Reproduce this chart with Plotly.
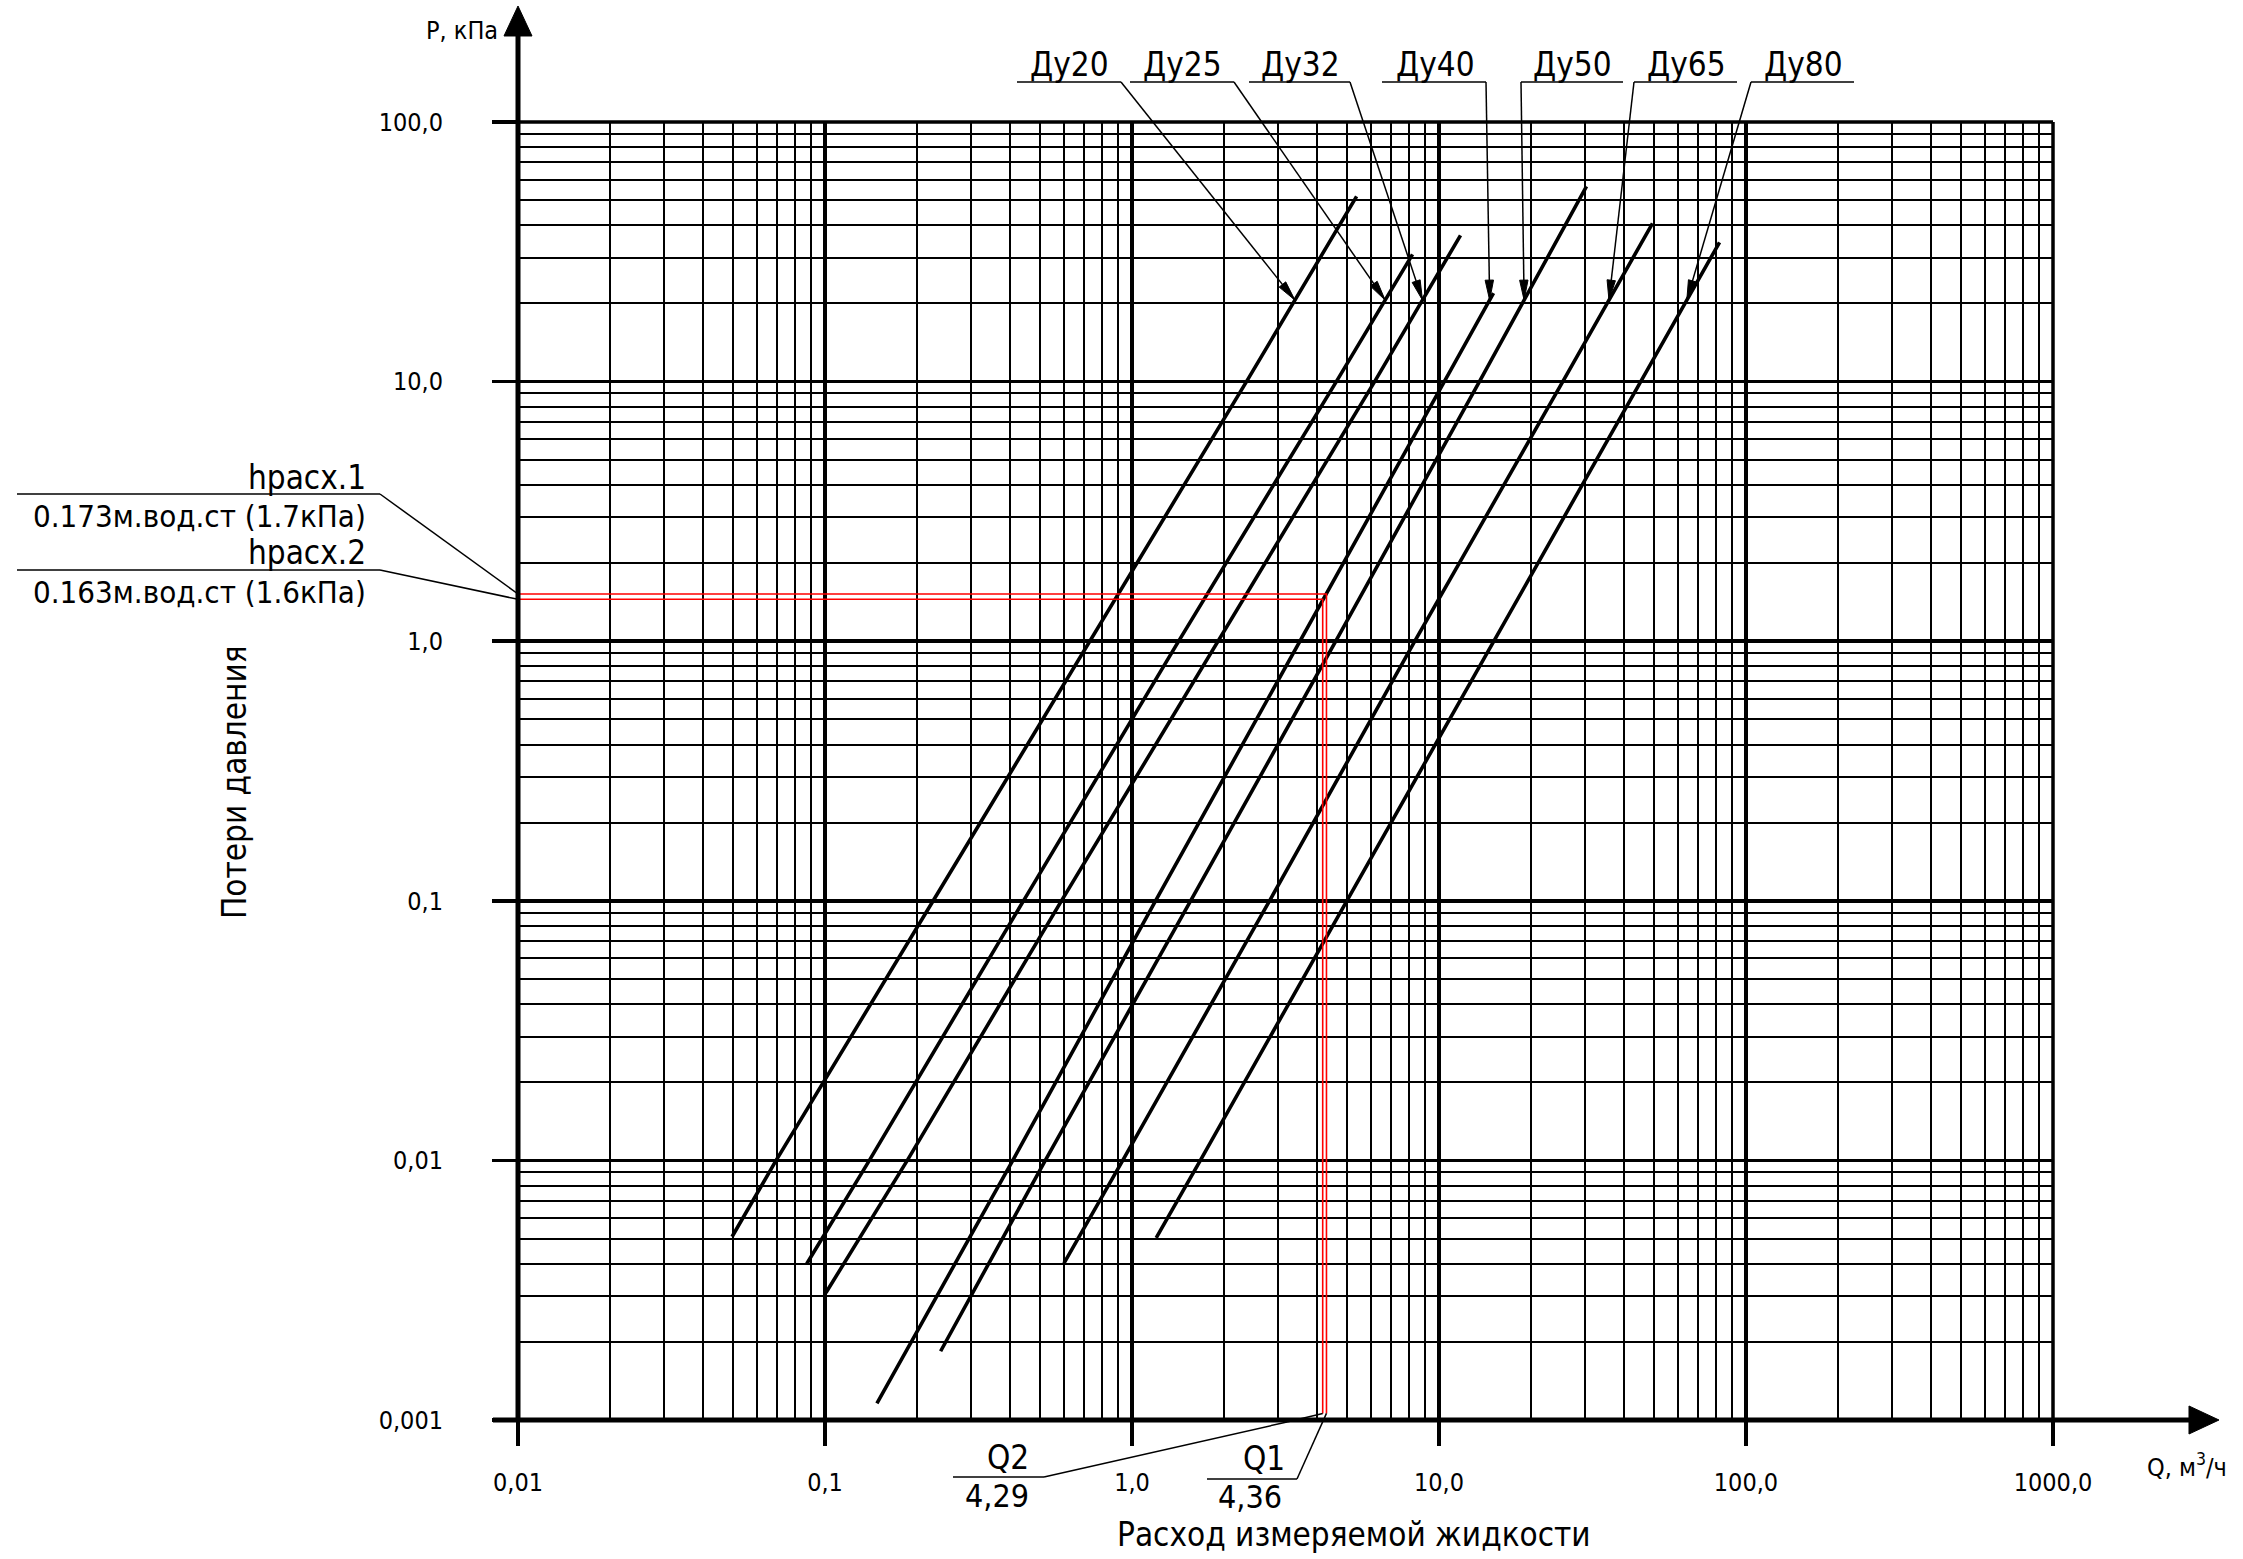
import numpy as np
import plotly.graph_objects as go

# ---------------- data ----------------
series_names = ["Ду20", "Ду25", "Ду32", "Ду40", "Ду50", "Ду65", "Ду80"]

du20_q = [0.0498, 0.0693, 0.2251, 0.729, 2.36, 5.39]
du20_p = [0.00508, 0.01, 0.1, 1.0, 10.0, 51.7]
du25_q = [0.0872, 0.1395, 0.443, 1.419, 4.63, 8.20]
du25_p = [0.00400, 0.01, 0.1, 1.0, 10.0, 30.9]
du32_q = [0.1007, 0.1854, 0.589, 1.899, 6.17, 11.75]
du32_p = [0.00309, 0.01, 0.1, 1.0, 10.0, 36.6]
du40_q = [0.1476, 0.409, 1.193, 3.52, 10.4, 15.05]
du40_p = [0.00116, 0.01, 0.1, 1.0, 10.0, 21.9]
du50_q = [0.238, 0.522, 1.552, 4.61, 13.54, 30.23]
du50_p = [0.00184, 0.01, 0.1, 1.0, 10.0, 56.5]
du65_q = [0.600, 0.933, 2.805, 8.34, 25.3, 49.6]
du65_p = [0.00401, 0.01, 0.1, 1.0, 10.0, 40.7]
du80_q = [1.199, 1.67, 5.01, 15.03, 45.4, 82.0]
du80_p = [0.00503, 0.01, 0.1, 1.0, 10.0, 34.4]

series_q = [du20_q, du25_q, du32_q, du40_q, du50_q, du65_q, du80_q]
series_p = [du20_p, du25_p, du32_p, du40_p, du50_p, du65_p, du80_p]

# red construction (as drawn) and its labels
h_names = ["hрасх.1", "hрасх.2"]
h_texts = ["0.173м.вод.ст (1.7кПа)", "0.163м.вод.ст (1.6кПа)"]
h_drawn = [1.52, 1.45]
q_names = ["Q1", "Q2"]
q_texts = ["4,36", "4,29"]
q_drawn = [4.30, 4.18]
red_floor = 0.00106
tip_p = 20.6  # pressure where the label arrows touch the curves

x_tickvals = [0.01, 0.1, 1, 10, 100, 1000]
x_ticktext = ["0,01", "0,1", "1,0", "10,0", "100,0", "1000,0"]
y_tickvals = [0.001, 0.01, 0.1, 1, 10, 100]
y_ticktext = ["0,001", "0,01", "0,1", "1,0", "10,0", "100,0"]

# ---------------- geometry ----------------
W, H = 2243, 1559
L, R, T, B = 518, 190, 122, 139
PW = W - L - R
PH = H - T - B
XR = (-2.0, 3.0)
YR = (-3.0, 2.0)
FONT = "Liberation Sans Narrow, DejaVu Sans Condensed, Liberation Sans, sans-serif"


def px_of_q(q):
    return L + (np.log10(q) - XR[0]) / (XR[1] - XR[0]) * PW


def py_of_p(p):
    return T + (YR[1] - np.log10(p)) / (YR[1] - YR[0]) * PH


def xp(px):
    return (px - L) / PW


def yp(py):
    return (T + PH - py) / PH


def q_at_p(qs, ps, p):
    return 10 ** np.interp(np.log10(p), np.log10(ps), np.log10(qs))


shapes = []
annotations = []


def seg(x0, y0, x1, y1, w=1.5, color="black"):
    shapes.append(dict(type="line", xref="paper", yref="paper",
                       x0=xp(x0), y0=yp(y0), x1=xp(x1), y1=yp(y1),
                       line=dict(color=color, width=w), layer="above"))


def poly(pts):
    path = "M " + " L ".join(f"{xp(x):.6f},{yp(y):.6f}" for x, y in pts) + " Z"
    shapes.append(dict(type="path", xref="paper", yref="paper", path=path,
                       fillcolor="black", line=dict(color="black", width=1),
                       layer="above"))


def arrow_head(tail, tip, length=20, half=4.2):
    dx, dy = tip[0] - tail[0], tip[1] - tail[1]
    n = np.hypot(dx, dy)
    ux, uy = dx / n, dy / n
    bx, by = tip[0] - ux * length, tip[1] - uy * length
    poly([tip, (bx - uy * half, by + ux * half), (bx + uy * half, by - ux * half)])


def text(x, y, s, size=35, anchor="center", angle=0):
    annotations.append(dict(xref="paper", yref="paper", x=xp(x), y=yp(y), text=s,
                            showarrow=False, xanchor=anchor, yanchor="middle",
                            textangle=angle,
                            font=dict(family=FONT, size=size, color="black")))


fig = go.Figure()

# curves
for name, qs, ps in zip(series_names, series_q, series_p):
    fig.add_trace(go.Scatter(x=qs, y=ps, mode="lines", name=name,
                             line=dict(color="black", width=3.6),
                             hoverinfo="skip"))

# red construction lines
for h, q in zip(h_drawn, q_drawn):
    fig.add_trace(go.Scatter(x=[x_tickvals[0], q, q], y=[h, h, red_floor],
                             mode="lines", line=dict(color="#ff0000", width=1.6),
                             hoverinfo="skip", cliponaxis=False))

# axes lines with arrows, frame
seg(L, T + PH, L, 34, w=5)
poly([(L, 6), (L - 14, 36), (L + 14, 36)])
seg(L - 25, T + PH, 2192, T + PH, w=5)
poly([(2219, T + PH), (2189, T + PH - 14), (2189, T + PH + 14)])
seg(L, T, L + PW, T, w=3.5)
seg(L + PW, T, L + PW, T + PH, w=3.5)

# top labels with leaders
lab_cx = [1069, 1182.5, 1300, 1435, 1572.5, 1686, 1803]
under = [(1017, 1121), (1130, 1234), (1249, 1350), (1382, 1486),
         (1521, 1623), (1634, 1737), (1751, 1854)]
tail_x = [1121, 1234, 1350, 1486, 1521, 1634, 1751]
for name, qs, ps, cx, (u0, u1), tx in zip(series_names, series_q, series_p,
                                          lab_cx, under, tail_x):
    text(cx, 64, name, size=33)
    seg(u0, 82, u1, 82, w=1.5)
    tip = (px_of_q(q_at_p(qs, ps, tip_p)), py_of_p(tip_p))
    seg(tx, 82, tip[0], tip[1], w=1.5)
    arrow_head((tx, 82), tip)

# left labels (hрасх)
h_name_y = [477, 552]
h_text_y = [515.5, 591.5]
h_under_y = [494, 570]
for nm, tx_, hy, ny, ty, uy in zip(h_names, h_texts, h_drawn, h_name_y, h_text_y, h_under_y):
    text(368, ny, nm, size=33, anchor="right")
    text(368, ty, tx_, size=31, anchor="right")
    seg(17, uy, 380, uy, w=1.5)
    seg(380, uy, L, py_of_p(hy), w=1.5)

# bottom labels (Q)
yb = py_of_p(red_floor)
text(1287, 1458.5, q_names[0], size=33, anchor="right")
text(1284, 1497, q_texts[0], size=32, anchor="right")
seg(1207, 1479, 1297, 1479, w=1.5)
seg(1297, 1479, px_of_q(q_drawn[0]), yb, w=1.5)

text(1031, 1457.5, q_names[1], size=33, anchor="right")
text(1031, 1496, q_texts[1], size=32, anchor="right")
seg(953, 1477, 1044, 1477, w=1.5)
seg(1044, 1477, 1287, 1422, w=1.5)
seg(1287, 1422, px_of_q(q_drawn[1]), yb, w=1.5)

# axis titles and units
text(1354, 1534.5, "Расход измеряемой жидкости", size=33)
text(234, 782, "Потери давления", size=33, angle=-90)
text(500, 30, "P, кПа", size=25, anchor="right")
text(2187, 1465, "Q, м<sup>3</sup>/ч", size=25)

axis_common = dict(
    type="log", showline=False, zeroline=False,
    tickmode="array", ticks="outside", ticklen=25, tickwidth=3.5, tickcolor="black",
    showgrid=True, gridcolor="black", gridwidth=3.5,
    minor=dict(tickmode="linear", dtick="D1", showgrid=True, gridcolor="black",
               gridwidth=2, ticks=""),
    tickfont=dict(family=FONT, size=25, color="black"),
    fixedrange=True,
)

fig.update_layout(
    width=W, height=H, autosize=False,
    margin=dict(l=L, r=R, t=T, b=B, pad=0),
    paper_bgcolor="white", plot_bgcolor="white",
    showlegend=False,
    xaxis=dict(axis_common, range=list(XR), tickvals=x_tickvals, ticktext=x_ticktext,
               ticklabelstandoff=15),
    yaxis=dict(axis_common, range=list(YR), tickvals=y_tickvals, ticktext=y_ticktext,
               ticklabelstandoff=44),
    shapes=shapes,
    annotations=annotations,
)

fig.write_html("out.html", config={"displayModeBar": False, "staticPlot": True},
               post_script="document.body.style.margin='0';document.body.style.overflow='hidden';")
